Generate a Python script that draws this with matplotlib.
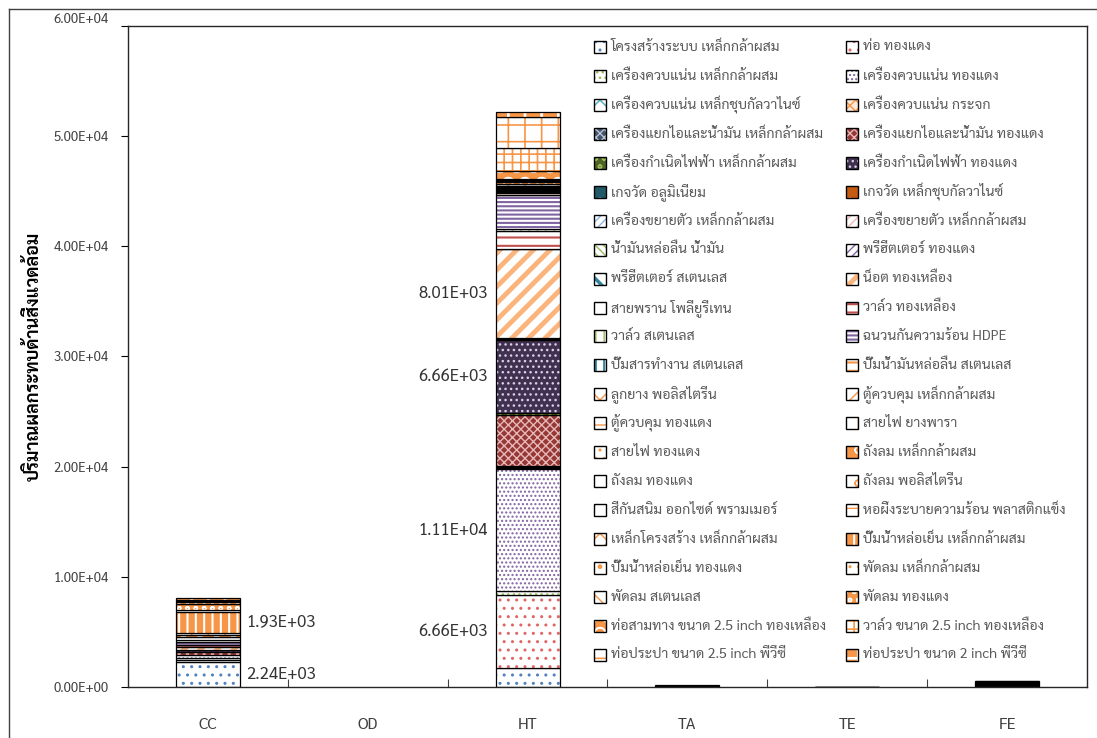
import numpy as np
import matplotlib
matplotlib.use("Agg")
import matplotlib.pyplot as plt
import matplotlib.patches as mpatches
from matplotlib.lines import Line2D
from matplotlib.transforms import ScaledTranslation

plt.rcParams['font.family'] = ['Sarabun', 'Noto Sans Thai', 'DejaVu Sans']
plt.rcParams['hatch.linewidth'] = 1.0

categories = ["CC", "OD", "HT", "TA", "TE", "FE"]

series_names = [
    "โครงสร้างระบบ เหล็กกล้าผสม", "ท่อ ทองแดง",
    "เครื่องควบแน่น เหล็กกล้าผสม", "เครื่องควบแน่น ทองแดง",
    "เครื่องควบแน่น เหล็กชุบกัลวาไนซ์", "เครื่องควบแน่น กระจก",
    "เครื่องแยกไอและน้ำมัน เหล็กกล้าผสม", "เครื่องแยกไอและน้ำมัน ทองแดง",
    "เครื่องกำเนิดไฟฟ้า เหล็กกล้าผสม", "เครื่องกำเนิดไฟฟ้า ทองแดง",
    "เกจวัด อลูมิเนียม", "เกจวัด เหล็กชุบกัลวาไนซ์",
    "เครื่องขยายตัว เหล็กกล้าผสม", "เครื่องขยายตัว เหล็กกล้าผสม",
    "น้ำมันหล่อลื่น น้ำมัน", "พรีฮีตเตอร์ ทองแดง",
    "พรีฮีตเตอร์ สเตนเลส", "น็อต ทองเหลือง",
    "สายพราน โพลียูรีเทน", "วาล์ว ทองเหลือง",
    "วาล์ว สเตนเลส", "ฉนวนกันความร้อน HDPE",
    "ปั๊มสารทำงาน สเตนเลส", "ปั๊มน้ำมันหล่อลื่น สเตนเลส",
    "ลูกยาง พอลิสไตรีน", "ตู้ควบคุม เหล็กกล้าผสม",
    "ตู้ควบคุม ทองแดง", "สายไฟ ยางพารา",
    "สายไฟ ทองแดง", "ถังลม เหล็กกล้าผสม",
    "ถังลม ทองแดง", "ถังลม พอลิสไตรีน",
    "สีกันสนิม ออกไซด์ พรามเมอร์", "หอผึ่งระบายความร้อน พลาสติกแข็ง",
    "เหล็กโครงสร้าง เหล็กกล้าผสม", "ปั๊มน้ำหล่อเย็น เหล็กกล้าผสม",
    "ปั๊มน้ำหล่อเย็น ทองแดง", "พัดลม เหล็กกล้าผสม",
    "พัดลม สเตนเลส", "พัดลม ทองแดง",
    "ท่อสามทาง ขนาด 2.5 inch ทองเหลือง", "วาล์ว ขนาด 2.5 inch ทองเหลือง",
    "ท่อประปา ขนาด 2.5 inch พีวีซี", "ท่อประปา ขนาด 2 inch พีวีซี",
]

# values per category, one entry per series (same order as series_names)
cc_vals = [2240, 250, 150, 300, 0, 0, 0, 200, 0, 200,
           0, 0, 0, 0, 0, 0, 0, 300, 0, 150,
           0, 300, 0, 200, 0, 0, 0, 0, 230, 200,
           0, 0, 0, 200, 0, 1930, 0, 120, 0, 600,
           120, 100, 100, 150]
od_vals = [0] * 44
ht_vals = [1720, 6660, 300, 11100, 120, 100, 100, 4630, 150, 6660,
           20, 20, 30, 30, 20, 30, 20, 8010, 50, 1630,
           150, 3090, 50, 150, 60, 60, 80, 60, 100, 100,
           80, 60, 80, 100, 80, 150, 60, 80, 60, 100,
           700, 2100, 2800, 450]
ta_vals = [30, 20, 10, 30, 0, 0, 0, 20, 0, 20,
           0, 0, 0, 0, 0, 0, 0, 10, 0, 0,
           0, 0, 0, 0, 0, 0, 0, 0, 0, 0,
           0, 0, 0, 0, 0, 0, 0, 0, 0, 0,
           0, 0, 0, 0]
te_vals = [-30, -20, 0, -30, 0, 0, 0, -20, 0, 10,
           0, 0, 0, 0, 0, 0, 0, 10, 0, 0,
           0, 0, 0, 0, 0, 0, 0, 0, 0, 0,
           0, 0, 0, 0, 0, 0, 0, 0, 0, 0,
           0, 0, 0, 0]
fe_vals = [60, 50, 40, 60, 30, 30, 40, 50, 40, 60,
           20, 20, 0, 0, 0, 0, 0, 50, 0, 0,
           0, 0, 0, 0, 0, 0, 0, 0, 0, 0,
           0, 0, 0, 0, 0, 0, 0, 0, 0, 0,
           0, 0, 0, 0]

labels_cc = {0: "left", 35: "left"}   # series index -> side of label
labels_ht = {1: "right", 3: "right", 9: "right", 17: "right"}

# (face, hatch colour, hatch, hatch linewidth) per series
OR = "#f79646"
styles = [
    ("white", "#4f81bd", "..", 1), ("white", "#e06666", "..", 1),
    ("white", "#9bbb59", "...", 1), ("white", "#8064a2", "....", 1),
    ("white", "#4bacc6", "xx", 1), ("#fde9d9", OR, "xxx", 1),
    ("#44546a", "#b8c4d8", "xxxx", 1), ("#953735", "#e6b8b7", "xxxx", 1),
    ("#4f6228", "#9bbb59", "oo", 1), ("#403151", "#d9d0e6", "...", 1),
    ("#215968", "white", ".", 1), ("#c55a11", "white", ".", 1),
    ("white", "#8eb4e3", "////", 1), ("white", "#f2b8b8", "////", 1),
    ("white", "#9bbb59", "\\\\\\\\", 1), ("white", "#8064a2", "////", 1),
    ("white", "#31859c", "\\\\", 2.5), ("white", "#fbb47c", "//", 3.5),
    ("white", "#4f81bd", "|", 1), ("white", "#c0504d", "--", 1.5),
    ("white", "#9bbb59", "||", 1), ("white", "#8064a2", "----", 1.5),
    ("white", "#31859c", "||", 1.5), ("white", OR, "--", 1.5),
    ("white", OR, "x", 1), ("white", OR, "//", 1),
    ("white", OR, "+", 1), ("white", OR, "|", 1),
    ("white", OR, "..", 1), (OR, "white", "o", 1),
    ("white", OR, "x", 1), ("white", OR, "o", 1),
    ("white", OR, "/", 1), ("white", OR, "+", 1),
    ("white", OR, "xx", 1), (OR, "white", "||", 1.5),
    ("white", OR, ".", 1), ("white", OR, "..", 1),
    ("white", OR, "\\", 1), (OR, "white", "oo", 1),
    (OR, "white", "O", 1), ("white", OR, "++", 1.2),
    ("white", OR, "+", 1.2), (OR, "white", "+", 2),
]

data = np.array([cc_vals, od_vals, ht_vals, ta_vals, te_vals, fe_vals], dtype=float).T
n_series, n_cat = data.shape
x = np.arange(n_cat)
width = 0.4

fig = plt.figure(figsize=(10.97, 7.38), dpi=100)
ax = fig.add_axes([128 / 1097, 51 / 738, (1087 - 128) / 1097, (687 - 26) / 738])

pos_bottom = np.zeros(n_cat)
neg_bottom = np.zeros(n_cat)
for i in range(n_series):
    vals = data[i]
    bottom = np.where(vals >= 0, pos_bottom, neg_bottom)
    m = vals != 0
    face, hc, h, hlw = styles[i]
    if m.any():
        with plt.rc_context({'hatch.linewidth': hlw}):
            ax.bar(x[m], vals[m], width, bottom=bottom[m], color=face,
                   edgecolor=hc, hatch=h, linewidth=0)
        ax.bar(x[m], vals[m], width, bottom=bottom[m], fill=False,
               edgecolor="black", linewidth=0.9)
    for j, side in ((0, labels_cc.get(i)), (2, labels_ht.get(i))):
        if side and vals[j] > 0:
            yc = bottom[j] + vals[j] / 2
            if side == "left":
                ax.text(x[j] + width / 2 + 0.04, yc, f"{vals[j]:.2E}",
                        ha="left", va="center", fontsize=12, color="#333333")
            else:
                ax.text(x[j] - width / 2 - 0.05, yc, f"{vals[j]:.2E}",
                        ha="right", va="center", fontsize=12, color="#333333")
    pos_bottom = pos_bottom + np.where(vals > 0, vals, 0)
    neg_bottom = neg_bottom + np.where(vals < 0, vals, 0)

ax.set_xlim(-0.5, n_cat - 0.5)
ax.set_ylim(0, 60000)
yt = np.arange(0, 60001, 10000)
ax.set_yticks(yt)
ax.set_yticklabels([f"{v:.2E}" for v in yt])
ax.tick_params(axis="y", direction="out", length=5, pad=9, labelsize=9.5,
               labelcolor="#404040", width=0.8)
ax.set_xticks(x)
ax.set_xticklabels(categories)
ax.tick_params(axis="x", which="major", length=0, pad=22, labelsize=11.5,
               labelcolor="#404040")
ax.set_xticks(np.arange(0.5, n_cat - 1, 1.0), minor=True)
ax.tick_params(axis="x", which="minor", direction="in", length=6, width=0.8,
               color="#404040")
for s in ax.spines.values():
    s.set_linewidth(1.0)
    s.set_color("#262626")
ax.set_ylabel("ปริมาณผลกระทบด้านสิ่งแวดล้อม", fontsize=13, fontweight="bold")
ax.yaxis.set_label_coords(-0.0886, 0.5)

# top tick label sits a little higher in the original
top_lbl = ax.get_yticklabels()[-1]
top_lbl.set_transform(top_lbl.get_transform() + ScaledTranslation(0, 0.08, fig.dpi_scale_trans))

# legend, filled row by row in two columns like the original
W, H = 1097, 738
for k, name in enumerate(series_names):
    r, c = divmod(k, 2)
    yp = 47 + r * 28.95
    xp = 594 if c == 0 else 846
    face, hc, h, hlw = styles[k]
    with plt.rc_context({'hatch.linewidth': hlw}):
        fig.add_artist(mpatches.Rectangle((xp / W, 1 - (yp + 6) / H), 12 / W, 12 / H,
                                          transform=fig.transFigure, facecolor=face,
                                          edgecolor=hc, hatch=h, linewidth=0))
    fig.add_artist(mpatches.Rectangle((xp / W, 1 - (yp + 6) / H), 12 / W, 12 / H,
                                      transform=fig.transFigure, fill=False,
                                      edgecolor="black", linewidth=1.0))
    fig.text((xp + 17) / W, 1 - yp / H, name, ha="left", va="center",
             fontsize=10.2, color="#595959")

# outer chart border (left and top edges visible in the crop)
fig.add_artist(Line2D([9 / W, 9 / W], [0, 1 - 9 / H], color="#404040", lw=1))
fig.add_artist(Line2D([9 / W, 1], [1 - 9 / H, 1 - 9 / H], color="#404040", lw=1))

fig.savefig("out.png", dpi=100)
